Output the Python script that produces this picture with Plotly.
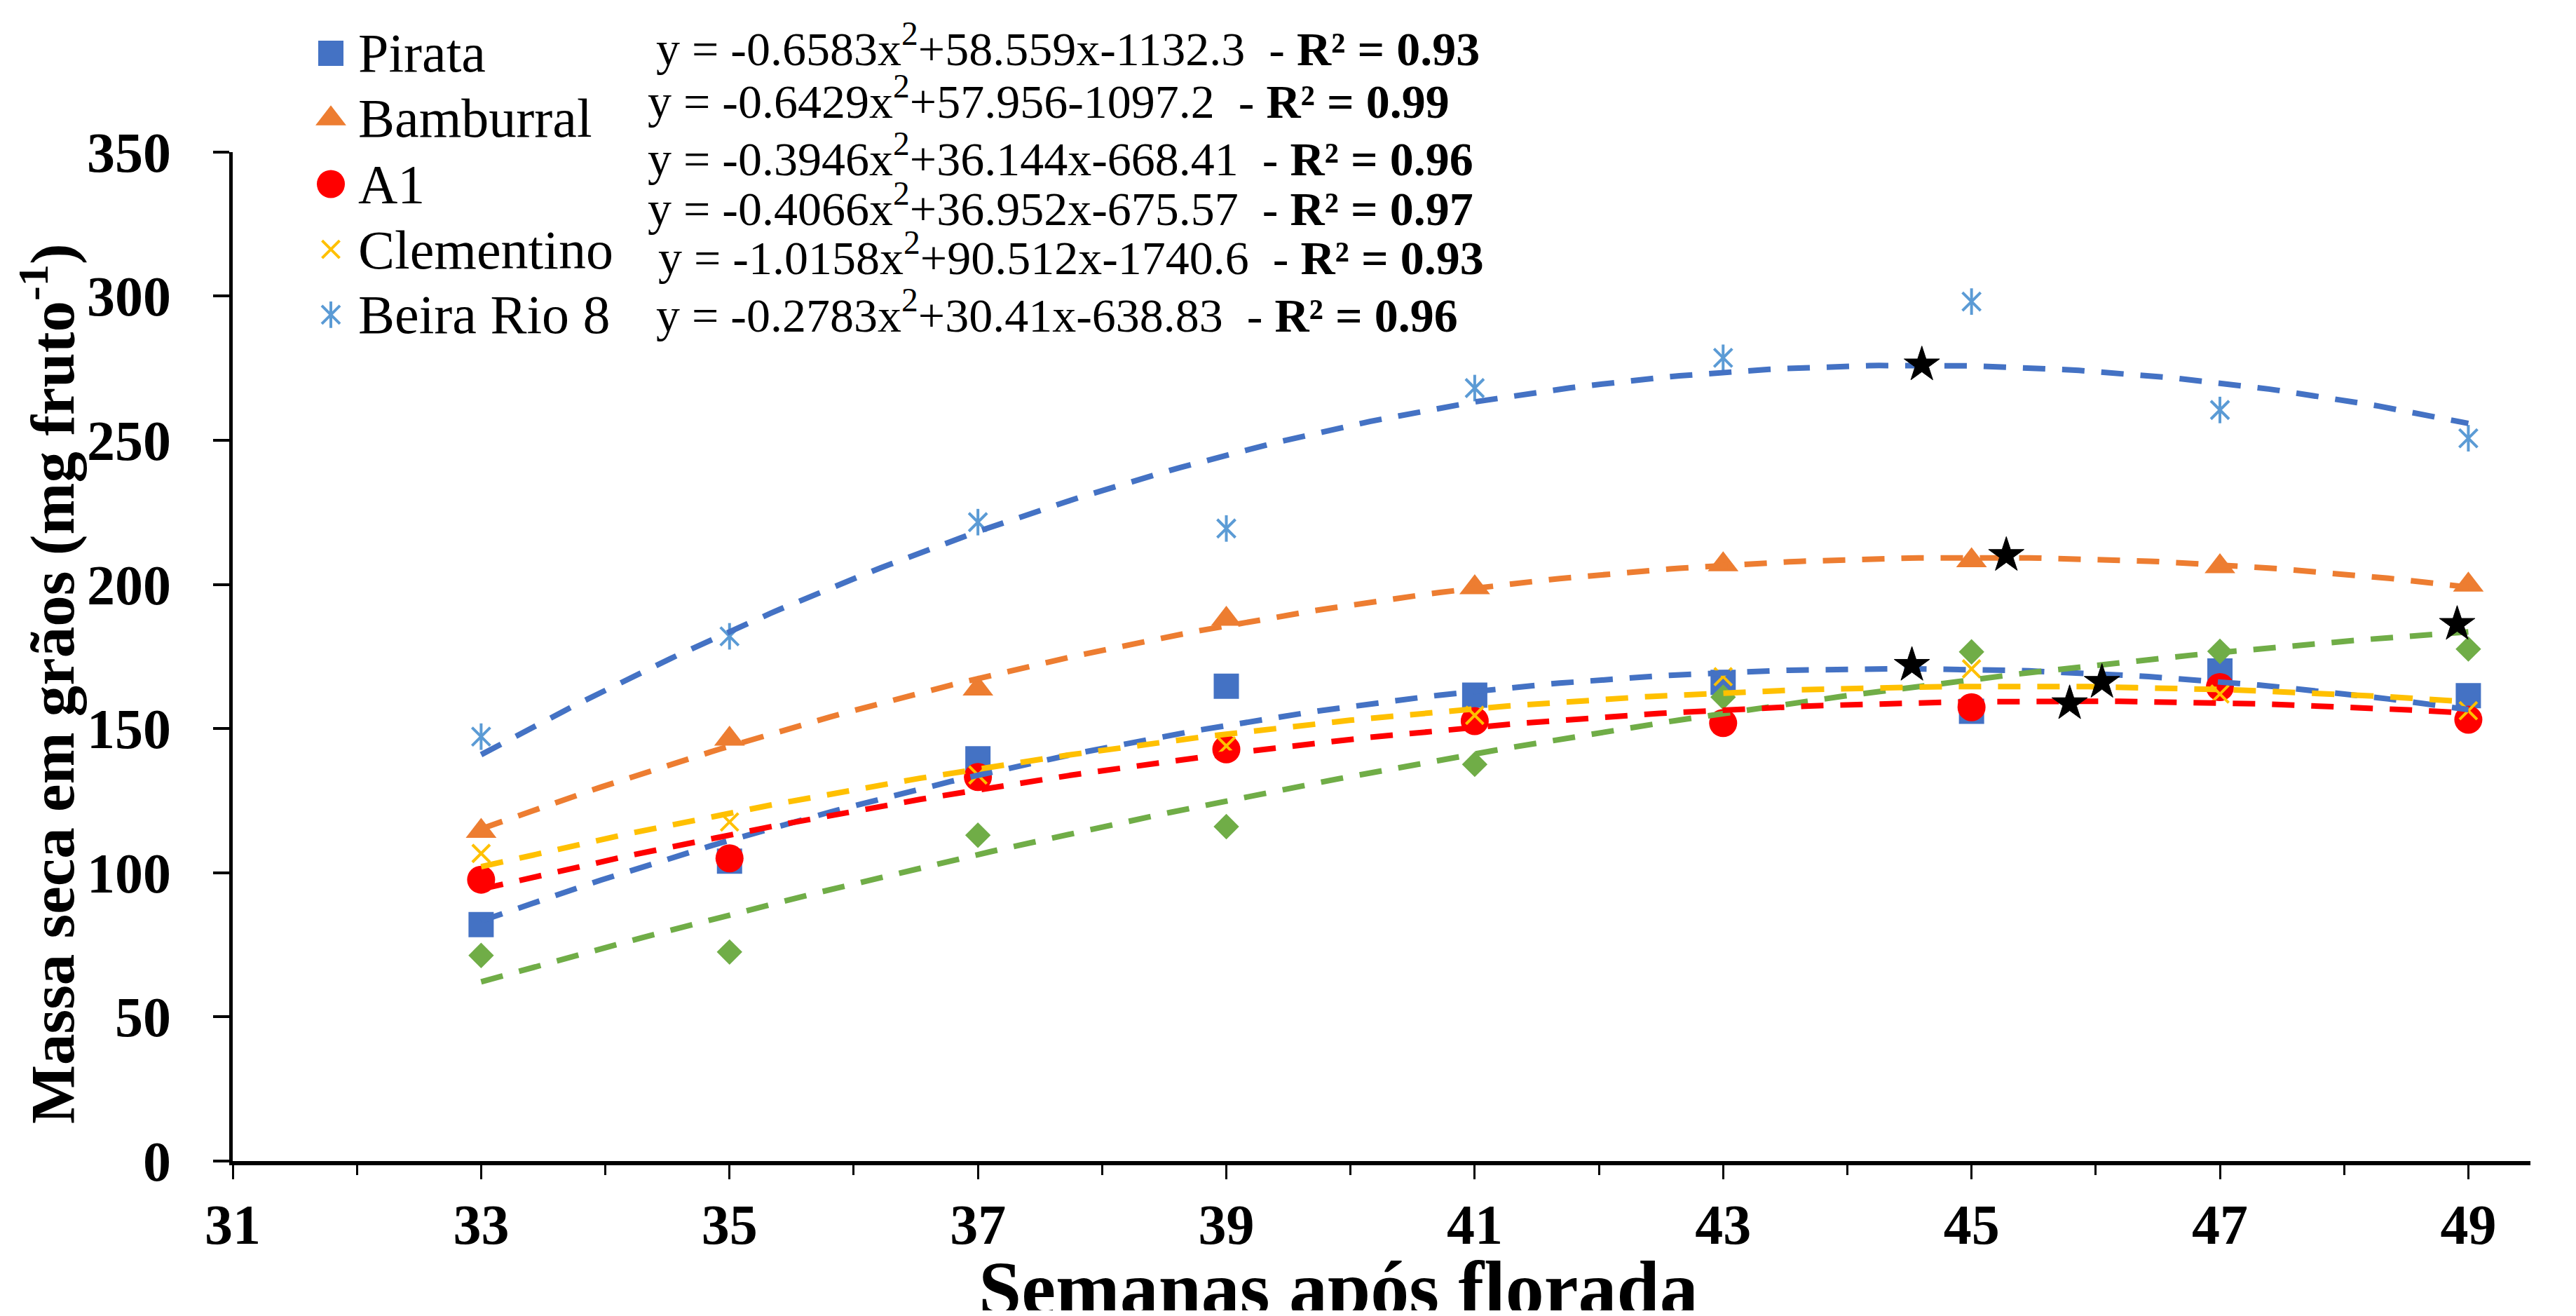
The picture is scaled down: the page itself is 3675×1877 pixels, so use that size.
import numpy as np
import plotly.graph_objects as go

# ---------------- data ----------------
weeks = [33, 35, 37, 39, 41, 43, 45, 47, 49]
pirata = [82.0, 104.0, 139.5, 164.7, 161.6, 166.0, 156.0, 170.0, 161.4]
bamburral = [114.4, 146.4, 163.8, 188.0, 198.9, 206.9, 208.3, 206.2, 199.8]
a1 = [97.6, 105.0, 133.2, 142.8, 152.6, 151.9, 157.4, 164.4, 153.1]
clementino = [106.7, 117.6, 133.9, 144.0, 154.6, 168.0, 170.7, 162.0, 156.2]
beira_rio_8 = [147.2, 182.0, 221.6, 219.4, 268.1, 278.6, 298.1, 260.5, 250.7]
verde = [71.3, 72.5, 113.0, 116.0, 137.6, 160.9, 176.6, 176.8, 177.6]

# maximum points (black stars)
star_x = [44.60, 45.28, 44.52, 45.79, 46.05, 48.91]
star_y = [276.2, 210.1, 172.0, 158.7, 166.1, 186.2]

legend_names = ["Pirata", "Bamburral", "A1", "Clementino", "Beira Rio 8"]
eq_texts = [
    "y = -0.6583x<sup>2</sup>+58.559x-1132.3",
    "y = -0.6429x<sup>2</sup>+57.956-1097.2",
    "y = -0.3946x<sup>2</sup>+36.144x-668.41",
    "y = -0.4066x<sup>2</sup>+36.952x-675.57",
    "y = -1.0158x<sup>2</sup>+90.512x-1740.6",
    "y = -0.2783x<sup>2</sup>+30.41x-638.83",
]
r2_texts = ["0.93", "0.99", "0.96", "0.97", "0.93", "0.96"]

x_ticks = list(range(31, 50, 2))
y_ticks = list(range(0, 351, 50))

# ---------------- styling ----------------
W, H = 3675, 1877
OFF = 8                      # page body margin in the browser
FW, FH = W - 2 * OFF, H - 2 * OFF
FONT = "Liberation Serif"
BLUE = "#4472C4"
ORANGE = "#ED7D31"
RED = "#FF0000"
YELLOW = "#FFC000"
LIGHTBLUE = "#5B9BD5"
GREEN = "#70AD47"


def fx(p):
    return (p - OFF) / FW


def fy(p):
    return 1 - (p - OFF) / FH


fig = go.Figure()

marker_styles = {
    "Pirata": dict(symbol="square", size=36, color=BLUE),
    "Bamburral": dict(symbol="triangle-up", size=38, color=ORANGE),
    "A1": dict(symbol="circle", size=40, color=RED),
    "Clementino": dict(symbol="x-thin-open", size=25, color=YELLOW, line=dict(color=YELLOW, width=4)),
    "Beira Rio 8": dict(symbol="x-thin-open", size=26, color=LIGHTBLUE, line=dict(color=LIGHTBLUE, width=4)),
    "verde": dict(symbol="diamond", size=28, color=GREEN),
}
br8_bar = dict(symbol="line-ns-open", size=27, color=LIGHTBLUE, line=dict(color=LIGHTBLUE, width=4))

series = [
    ("Pirata", pirata),
    ("verde", verde),
    ("Bamburral", bamburral),
    ("A1", a1),
    ("Clementino", clementino),
    ("Beira Rio 8", beira_rio_8),
]

for name, vals in series:
    fig.add_trace(go.Scatter(x=weeks, y=vals, mode="markers", marker=marker_styles[name],
                             showlegend=False, name=name))
    if name == "Beira Rio 8":
        fig.add_trace(go.Scatter(x=weeks, y=vals, mode="markers", marker=br8_bar,
                                 showlegend=False, name=name))

trend_colors = {
    "Pirata": BLUE,
    "verde": GREEN,
    "Bamburral": ORANGE,
    "A1": RED,
    "Clementino": YELLOW,
    "Beira Rio 8": BLUE,
}
xfit = np.linspace(weeks[0], weeks[-1], 200)
for name, vals in series:
    coef = np.polyfit(weeks, vals, 2)
    yfit = np.polyval(coef, xfit)
    fig.add_trace(go.Scatter(x=xfit, y=yfit, mode="lines",
                             line=dict(color=trend_colors[name], width=8, dash="32px,24px"),
                             showlegend=False, hoverinfo="skip"))

fig.add_trace(go.Scatter(x=star_x, y=star_y, mode="markers",
                         marker=dict(symbol="star", size=38, color="black",
                                     line=dict(color="black", width=1)),
                         showlegend=False))

# ---------------- manual legend (overlay axes) ----------------
legend_rows_px = [76, 169, 262, 356, 449]
for i, name in enumerate(legend_names):
    fig.add_trace(go.Scatter(x=[0], y=[i], xaxis="x2", yaxis="y2", mode="markers",
                             marker=marker_styles[name], showlegend=False, hoverinfo="skip"))
    if name == "Beira Rio 8":
        fig.add_trace(go.Scatter(x=[0], y=[i], xaxis="x2", yaxis="y2", mode="markers",
                                 marker=br8_bar, showlegend=False, hoverinfo="skip"))

annotations = []
for i, name in enumerate(legend_names):
    annotations.append(dict(text=name, x=fx(509), y=fy(legend_rows_px[i]), xref="paper", yref="paper",
                            xanchor="left", yanchor="middle", showarrow=False,
                            font=dict(family=FONT, size=78, color="black")))

eq_rows_px = [65, 140, 222, 293, 363, 445]
eq_left_px = [934, 922, 922, 922, 937, 934]
for i, (eq, r2) in enumerate(zip(eq_texts, r2_texts)):
    annotations.append(dict(text=eq + "&nbsp; - <b>R² = " + r2 + "</b>",
                            x=fx(eq_left_px[i]), y=fy(eq_rows_px[i]), xref="paper", yref="paper",
                            xanchor="left", yanchor="middle", showarrow=False,
                            font=dict(family=FONT, size=68, color="black")))

# axis titles
annotations.append(dict(text="<b>Semanas após florada</b>", x=fx(1910), y=fy(1838),
                        xref="paper", yref="paper", xanchor="center", yanchor="middle",
                        showarrow=False, font=dict(family=FONT, size=110, color="black")))
annotations.append(dict(text="<b>Massa seca em grãos (mg fruto<sup>-1</sup>)</b>", x=fx(68), y=fy(975),
                        xref="paper", yref="paper", xanchor="center", yanchor="middle",
                        textangle=-90, showarrow=False,
                        font=dict(family=FONT, size=89, color="black")))

X0, X1 = 332, 3610
Y0, Y1 = 216.7, 1656

fig.update_layout(
    width=FW, height=FH,
    margin=dict(l=0, r=0, t=0, b=0, pad=0, autoexpand=False),
    paper_bgcolor="white", plot_bgcolor="white",
    showlegend=False,
    annotations=annotations,
    xaxis=dict(domain=[fx(X0), fx(X1)], range=[31, 49.5], tickmode="linear", tick0=31, dtick=2,
               automargin=False,
               showgrid=False, zeroline=False, showline=True, linecolor="black", linewidth=6,
               ticks="outside", ticklen=20, tickwidth=3, tickcolor="black",
               minor=dict(ticks="outside", ticklen=14, tickwidth=3, tickcolor="black",
                          tick0=31, dtick=1, showgrid=False),
               tickfont=dict(family=FONT, size=80, color="black", weight="bold"),
               ticklabelstandoff=-4, anchor="y"),
    yaxis=dict(domain=[fy(Y1), fy(Y0)], range=[0, 350], tickmode="array", tickvals=y_ticks,
               automargin=False,
               showgrid=False, zeroline=False, showline=True, linecolor="black", linewidth=5,
               ticks="outside", ticklen=23, tickwidth=4, tickcolor="black",
               tickfont=dict(family=FONT, size=80, color="black", weight="bold"),
               ticklabelstandoff=44, anchor="x"),
    xaxis2=dict(domain=[fx(472 - 60), fx(472 + 60)], range=[-1, 1], visible=False,
                automargin=False, anchor="y2"),
    yaxis2=dict(domain=[fy(legend_rows_px[-1] + 46.5), fy(legend_rows_px[0] - 46.5)],
                range=[4.5, -0.5], visible=False, automargin=False, anchor="x2"),
)

fig.write_html("out.html")
